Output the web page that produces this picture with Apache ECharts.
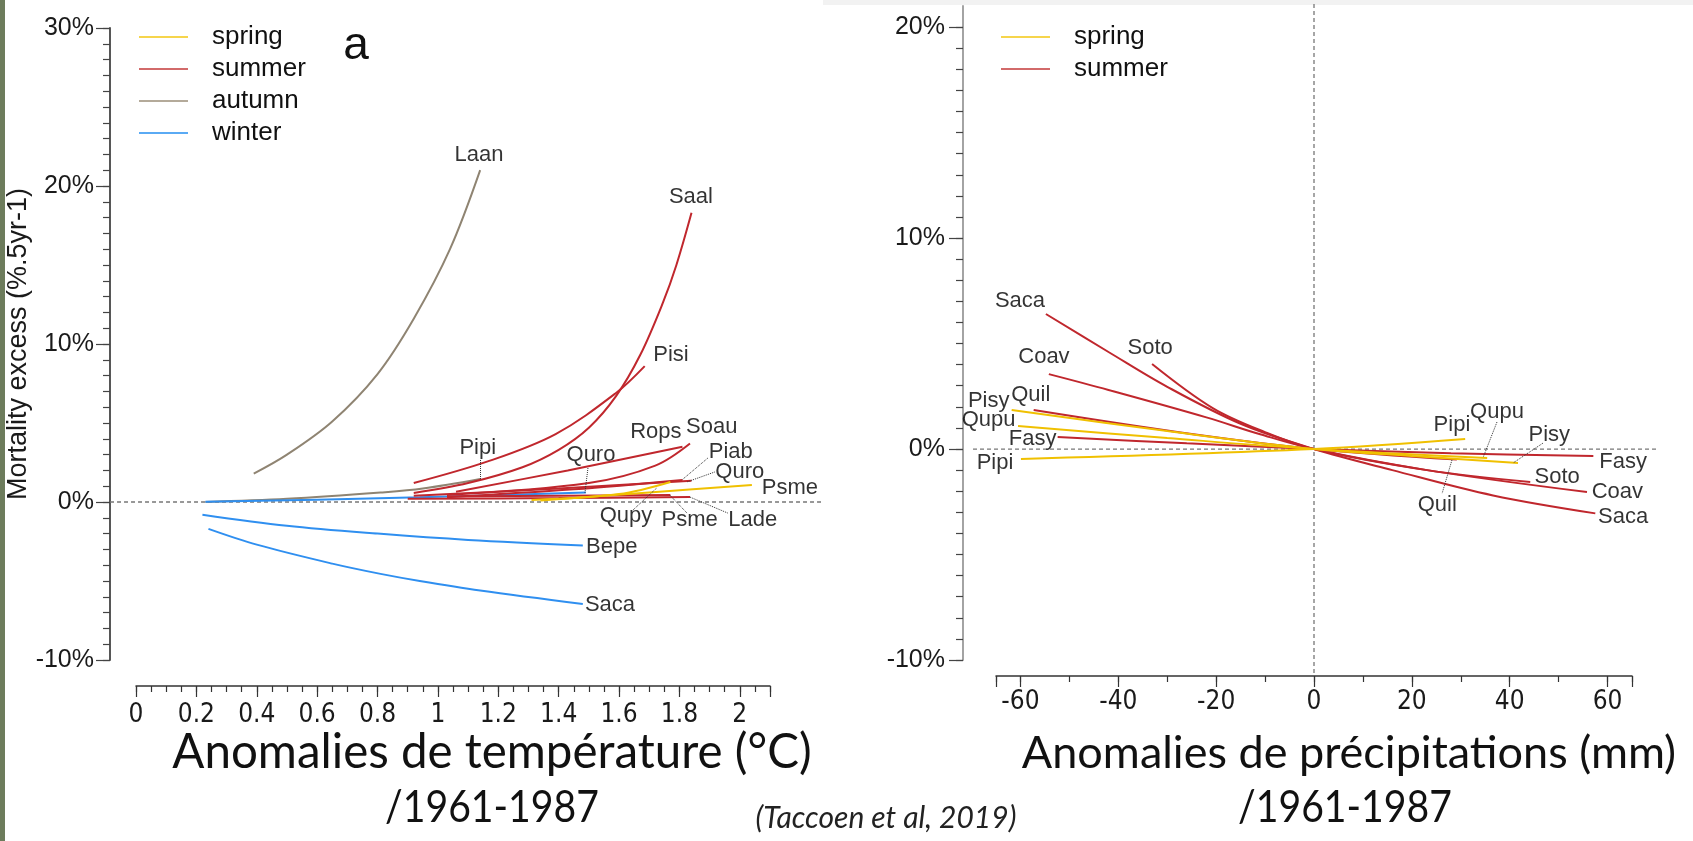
<!DOCTYPE html>
<html>
<head>
<meta charset="utf-8">
<script src="https://cdn.jsdelivr.net/npm/echarts@6/dist/echarts.min.js"></script>
<style>
  html, body { margin: 0; padding: 0; background: #fff; }
  #chart { width: 1693px; height: 841px; }
</style>
</head>
<body>
<div id="chart"></div>
<script>
// ---- panel a : temperature anomaly (°C) vs mortality excess (%)
const tempLabels = [0, 0.2, 0.4, 0.6, 0.8, 1, 1.2, 1.4, 1.6, 1.8, 2];
const mortLabelsA = [-10, 0, 10, 20, 30];

const tLaan  = [[0.39, 1.8], [0.5, 3.0], [0.65, 5.1], [0.8, 8.1], [0.92, 11.6], [1.04, 16.0], [1.14, 21.0]];
const tPipi  = [[0.23, 0], [0.5, 0.2], [0.81, 0.6], [0.95, 0.85], [1.14, 1.45]];
const tSaal  = [[0.92, 0.57], [1.1, 1.2], [1.28, 2.2], [1.4, 3.3], [1.5, 4.7], [1.59, 6.7], [1.67, 9.3], [1.745, 12.6], [1.79, 15.0], [1.84, 18.3]];
const tPisi  = [[0.92, 1.2], [1.17, 2.6], [1.39, 4.3], [1.59, 6.9], [1.685, 8.6]];
const tRops  = [[1.06, 0.65], [1.43, 2.0], [1.81, 3.5]];
const tSoau  = [[1.03, 0.45], [1.5, 1.2], [1.72, 2.3], [1.835, 3.7]];
const tPiab  = [[1.03, 0.3], [1.45, 0.8], [1.81, 1.4]];
const tQuroS = [[0.92, 0.4], [1.4, 0.85], [1.84, 1.35]];
const tPsmeS = [[1.03, 0.35], [1.4, 0.4], [1.77, 0.44]];
const tLade  = [[0.9, 0.2], [1.4, 0.25], [1.835, 0.32]];
const tQuroW = [[0.23, 0.02], [0.6, 0.15], [0.94, 0.3], [1.49, 0.6]];
const tBepe  = [[0.22, -0.8], [0.5, -1.5], [0.8, -2.0], [1.1, -2.4], [1.48, -2.75]];
const tSaca  = [[0.24, -1.7], [0.4, -2.7], [0.65, -3.9], [0.81, -4.55], [0.94, -5.0], [1.14, -5.6], [1.48, -6.45]];
const tPsmeP = [[1.34, 0.1], [1.7, 0.6], [2.04, 1.08]];
const tQupy  = [[1.31, 0.13], [1.6, 0.5], [1.77, 1.27]];

// species name, season, points (drawing order: autumn, winter, summer, spring)
const tempCurves = [
  ['Laan', 'autumn', tLaan], ['Pipi', 'autumn', tPipi],
  ['Quro', 'winter', tQuroW], ['Bepe', 'winter', tBepe], ['Saca', 'winter', tSaca],
  ['Saal', 'summer', tSaal], ['Pisi', 'summer', tPisi], ['Rops', 'summer', tRops],
  ['Soau', 'summer', tSoau], ['Piab', 'summer', tPiab], ['Quro', 'summer', tQuroS],
  ['Psme', 'summer', tPsmeS], ['Lade', 'summer', tLade],
  ['Psme', 'spring', tPsmeP], ['Qupy', 'spring', tQupy]
];

// label centres and dotted leaders, in data units
const tempNames = [
  ['Laan', 1.136, 21.96], ['Saal', 1.838, 19.3], ['Pisi', 1.772, 9.3], ['Pipi', 1.132, 3.42],
  ['Quro', 1.507, 2.97], ['Rops', 1.722, 4.43], ['Soau', 1.907, 4.75], ['Piab', 1.97, 3.16],
  ['Quro', 2.0, 1.9], ['Psme', 2.166, 0.89], ['Qupy', 1.623, -0.89], ['Psme', 1.834, -1.14],
  ['Lade', 2.043, -1.14], ['Bepe', 1.576, -2.85], ['Saca', 1.57, -6.52]
];
const tempLeaders = [
  [[1.139, 2.66], [1.139, 1.39]], [[1.497, 2.15], [1.487, 0.57]], [[1.894, 2.78], [1.808, 1.39]],
  [[1.917, 1.9], [1.825, 1.27]], [[1.646, -0.51], [1.725, 0.89]], [[1.825, -0.7], [1.768, 0.44]],
  [[1.96, -0.7], [1.834, 0.32]]
];
const tempZeroLines = [[[-0.086, 0], [2.275, 0]]];

// ---- panel b : precipitation anomaly (mm) vs mortality excess (%)
const precLabels = [-60, -40, -20, 0, 20, 40, 60];
const mortLabelsB = [-10, 0, 10, 20];

const pSaca = [[-54.8, 6.4], [-42, 4.6], [-30, 2.95], [-15, 1.2], [0, 0], [16, -1.0], [36.6, -2.2], [57.5, -3.05]];
const pSoto = [[-33.1, 4.03], [-20.7, 1.94], [-10, 0.8], [0, 0], [23.1, -1.0], [44.2, -1.56]];
const pCoav = [[-54.2, 3.55], [-42, 2.8], [-22, 1.5], [-11, 0.7], [0, 0], [23.1, -1.0], [55.8, -2.04]];
const pQuil = [[-57.3, 1.85], [-27.6, 0.8], [0, 0], [29.2, -0.5]];
const pFasy = [[-52.4, 0.57], [-26, 0.27], [0, 0], [28, -0.2], [57.1, -0.33]];
const pPisy = [[-61.8, 1.85], [-30, 0.85], [0, 0], [20, -0.33], [41.7, -0.66]];
const pQupu = [[-60.5, 1.09], [-30, 0.52], [0, 0], [35.4, -0.43]];
const pPipi = [[-59.9, -0.47], [0, 0], [30.9, 0.47]];

const precCurves = [
  ['Saca', 'summer', pSaca], ['Soto', 'summer', pSoto], ['Coav', 'summer', pCoav],
  ['Quil', 'summer', pQuil], ['Fasy', 'summer', pFasy],
  ['Pisy', 'spring', pPisy], ['Qupu', 'spring', pQupu], ['Pipi', 'spring', pPipi]
];

const precNames = [
  ['Saca', -60.1, 7.01], ['Soto', -33.5, 4.79], ['Coav', -55.2, 4.36], ['Quil', -57.9, 2.56],
  ['Pisy', -66.5, 2.27], ['Qupu', -66.5, 1.37], ['Fasy', -57.5, 0.47], ['Pipi', -65.2, -0.66],
  ['Pipi', 28.2, 1.14], ['Qupu', 37.4, 1.75], ['Pisy', 48.1, 0.66], ['Fasy', 63.2, -0.62],
  ['Soto', 49.7, -1.33], ['Coav', 62.0, -2.04], ['Saca', 63.2, -3.22], ['Quil', 25.2, -2.65]
];
const precLeaders = [
  [[37.4, 1.28], [34.6, -0.38]], [[46.8, 0.28], [40.7, -0.66]], [[28.2, -0.52], [26.2, -2.09]]
];
const precZeroLines = [[[-69.7, 0], [70.3, 0]], [[0, 21.1], [0, -10.76]]];

const seasons = ['spring', 'summer', 'autumn', 'winter'];
const lineColor = { spring: '#f0c000', summer: '#c0272d', autumn: '#8f8472', winter: '#2f8ff0' };
const legendColor = { spring: '#f6d54c', summer: '#d26a6a', autumn: '#b4aa9a', winter: '#5aaaf4' };

const narrow = "'Liberation Sans Narrow', 'DejaVu Sans Condensed', sans-serif";
const sans = "'Liberation Sans', Arial, sans-serif";
const slide = "Lato, 'Open Sans', sans-serif";

function steps(from, to, step) {
  const out = [];
  for (let v = from; v <= to + 1e-9; v += step) out.push(+v.toFixed(3));
  return out;
}

function xAxisPair(grid, min, max, offset, labels, ticks, majors, margin) {
  const base = {
    type: 'value', gridIndex: grid, min: min, max: max, position: 'bottom', offset: offset,
    splitLine: { show: false }
  };
  return [
    Object.assign({}, base, {
      axisLine: { show: true, onZero: false, lineStyle: { color: '#333', width: 1.5 } },
      axisTick: { show: true, customValues: ticks, length: 6, lineStyle: { color: '#333', width: 1.2 } },
      axisLabel: {
        customValues: labels, margin: margin, fontSize: 26, fontFamily: narrow, color: '#1a1a1a',
        formatter: v => String(Math.round(v * 10) / 10)
      }
    }),
    Object.assign({}, base, {
      axisLine: { show: false, onZero: false },
      axisTick: { show: true, customValues: majors, length: 11, lineStyle: { color: '#333', width: 1.2 } },
      axisLabel: { show: false }
    })
  ];
}

function yAxisPair(grid, min, max, offset, labels, ticks, lineCol, margin, extra) {
  const base = {
    type: 'value', gridIndex: grid, min: min, max: max, position: 'left', offset: offset,
    splitLine: { show: false }
  };
  return [
    Object.assign({}, base, {
      axisLine: { show: true, onZero: false, lineStyle: { color: lineCol, width: 1.8 } },
      axisTick: { show: true, customValues: ticks, length: 7, lineStyle: { color: '#444', width: 1.2 } },
      axisLabel: {
        customValues: labels, margin: margin, fontSize: 25, fontFamily: sans, color: '#1a1a1a',
        formatter: v => v + '%'
      }
    }, extra || {}),
    Object.assign({}, base, {
      axisLine: { show: false, onZero: false },
      axisTick: { show: true, customValues: labels, length: 14, lineStyle: { color: '#444', width: 1.2 } },
      axisLabel: { show: false }
    })
  ];
}

const series = [];

function addCurves(list, axis) {
  list.forEach(c => {
    series.push({
      type: 'line', name: c[1], xAxisIndex: axis, yAxisIndex: axis,
      data: c[2], showSymbol: false, smooth: 0.35, clip: false, silent: true,
      lineStyle: { color: lineColor[c[1]], width: 2 },
      itemStyle: { color: legendColor[c[1]] }
    });
  });
}

function addNames(list, leaders, axis) {
  series.push({
    type: 'scatter', name: 'labels', xAxisIndex: axis, yAxisIndex: axis, clip: false, silent: true,
    symbolSize: 0,
    data: list.map(n => ({ name: n[0], value: [n[1], n[2]] })),
    label: { show: true, position: 'inside', formatter: '{b}', fontSize: 22, fontFamily: sans, color: '#000' },
    markLine: {
      silent: true, symbol: 'none', label: { show: false },
      lineStyle: { type: 'dotted', color: '#333', width: 1 },
      data: leaders.map(l => [{ coord: l[0] }, { coord: l[1] }])
    }
  });
}

addCurves(tempCurves, 0);
addCurves(precCurves, 2);
addNames(tempNames, tempLeaders, 0);
addNames(precNames, precLeaders, 2);

const chart = echarts.init(document.getElementById('chart'), null, { renderer: 'canvas' });

const titleStyle = { fontSize: 45, fontFamily: slide, fill: '#111', align: 'center', verticalAlign: 'middle' };

const decor = [
  { type: 'rect', shape: { x: 0, y: 0, width: 5, height: 841 }, style: { fill: '#6d7c5c' }, silent: true },
  { type: 'rect', shape: { x: 823, y: 0, width: 870, height: 5 }, style: { fill: '#f2f2f2' }, silent: true },
  { type: 'text', x: 356, y: 46, style: { text: 'a', fontSize: 46, fontFamily: sans, fill: '#111', align: 'center', verticalAlign: 'middle' } },
  { type: 'text', x: 492, y: 753, style: Object.assign({}, titleStyle, { text: 'Anomalies de température (°C)', fontSize: 47.5 }) },
  { type: 'text', x: 492, y: 807, scaleX: 0.87, style: Object.assign({}, titleStyle, { text: '/1961-1987' }) },
  { type: 'text', x: 1349, y: 753, style: Object.assign({}, titleStyle, { text: 'Anomalies de précipitations (mm)' }) },
  { type: 'text', x: 1345, y: 807, scaleX: 0.87, style: Object.assign({}, titleStyle, { text: '/1961-1987' }) },
  { type: 'text', x: 886, y: 818, style: { text: '(Taccoen et al, 2019)', fontSize: 30, fontStyle: 'italic', fontFamily: slide, fill: '#222', align: 'center', verticalAlign: 'middle' } }
];

chart.setOption({
  animation: false,
  backgroundColor: '#fff',
  grid: [
    { left: 136, top: 28, width: 634, height: 632 },
    { left: 996, top: 6, width: 636, height: 654 }
  ],
  xAxis: []
    .concat(xAxisPair(0, 0, 2.1, 26, tempLabels, steps(0, 2.1, 0.05), tempLabels.concat([2.1]), 16))
    .concat(xAxisPair(1, -65, 65, 16, precLabels, [-65].concat(steps(-60, 60, 10), [65]), [-65].concat(precLabels, [65]), 13)),
  yAxis: []
    .concat(yAxisPair(0, -10, 30, 26, mortLabelsA, steps(-10, 30, 1), '#444', 16, {
      name: 'Mortality excess (%.5yr-1)', nameLocation: 'middle', nameRotate: 90, nameGap: 69,
      nameTextStyle: { fontSize: 27, fontFamily: sans, color: '#1a1a1a' }
    }))
    .concat(yAxisPair(1, -10, 21, 33, mortLabelsB, steps(-10, 20, 1), '#9a9a9a', 18)),
  legend: [
    {
      left: 134, top: 19, orient: 'vertical', icon: 'rect', itemWidth: 49, itemHeight: 2, itemGap: 6,
      selectedMode: false,
      data: seasons.map(s => ({ name: s, itemStyle: { color: legendColor[s] } })),
      textStyle: { fontSize: 26, lineHeight: 26, color: '#111', fontFamily: sans, padding: [0, 0, 0, 19] }
    },
    {
      left: 996, top: 19, orient: 'vertical', icon: 'rect', itemWidth: 49, itemHeight: 2, itemGap: 6,
      selectedMode: false,
      data: ['spring', 'summer'].map(s => ({ name: s, itemStyle: { color: legendColor[s] } })),
      textStyle: { fontSize: 26, lineHeight: 26, color: '#111', fontFamily: sans, padding: [0, 0, 0, 19] }
    }
  ],
  graphic: decor,
  series: series
});

// dashed zero lines reach past the plot area, so place them through the axes' own scales
function dashed(lines, axis) {
  return lines.map(l => {
    const a = chart.convertToPixel({ xAxisIndex: axis, yAxisIndex: axis }, l[0]);
    const b = chart.convertToPixel({ xAxisIndex: axis, yAxisIndex: axis }, l[1]);
    return {
      type: 'line', silent: true, z: 1,
      shape: { x1: a[0], y1: a[1], x2: b[0], y2: b[1] },
      style: { stroke: '#777', lineWidth: 1.3, lineDash: [4, 3] }
    };
  });
}

chart.setOption({ graphic: decor.concat(dashed(tempZeroLines, 0), dashed(precZeroLines, 2)) });
</script>
</body>
</html>
